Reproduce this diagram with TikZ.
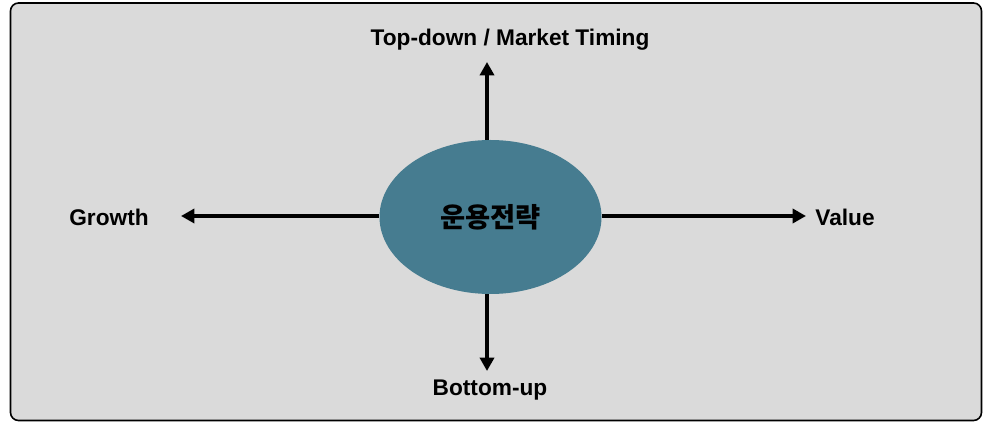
\documentclass[tikz,border=0pt]{standalone}
\usepackage{fontspec}
\setmainfont{Liberation Sans}
\newfontfamily\kofont{Noto Sans CJK KR}
\usetikzlibrary{arrows.meta}
\usetikzlibrary{positioning}
\usetikzlibrary{shapes.geometric}

\definecolor{panelgray}{RGB}{218,218,218}
\definecolor{stratblue}{RGB}{70,124,144}

\tikzset{
  axislabel/.style={font=\fontsize{17}{19}\selectfont\bfseries, inner sep=0.75pt},
  axisarrow/.style={line width=3.3pt, -{Triangle[width=10.5pt,length=10pt]}}
}

\begin{document}
\begin{tikzpicture}[x=0.75pt,y=0.75pt,yscale=-1,xscale=1]
            \useasboundingbox (0,0) rectangle (984,423);

            %Shape: Rounded Rect
            \draw [line width=1.2pt, fill=panelgray, rounded corners=6pt] (10.5,3) rectangle (981.5,420.5);

            %Shape: Ellipse
            \node (strat) [ellipse, fill=stratblue, minimum width=166.5pt, minimum height=115.5pt, inner sep=0pt] at (490.5,217)
                {\kofont\fontsize{20.5}{22}\selectfont\bfseries 운용전략};

            % Text Node
            \node (topdown) [axislabel] at (510,40) {Top-down / Market Timing};
            % Text Node
            \node (growth) [axislabel] at (109,217) {Growth};
            % Text Node
            \node (value) [axislabel] at (845,217) {Value};
            % Text Node
            \node (bottomup) [axislabel] at (490,390) {Bottom-up};

            \coordinate (tipN) at (487,62);
            \coordinate (tipS) at (487,371);
            \coordinate (tipW) at (181,216);
            \coordinate (tipE) at (806,216);

            % Arrows
            \draw [axisarrow] (strat.north -| tipN) -- (tipN);
            \draw [axisarrow] (strat.south -| tipS) -- (tipS);
            \draw [axisarrow] (strat.west |- tipW) -- (tipW);
            \draw [axisarrow] (strat.east |- tipE) -- (tipE);

        \end{tikzpicture}
\end{document}
